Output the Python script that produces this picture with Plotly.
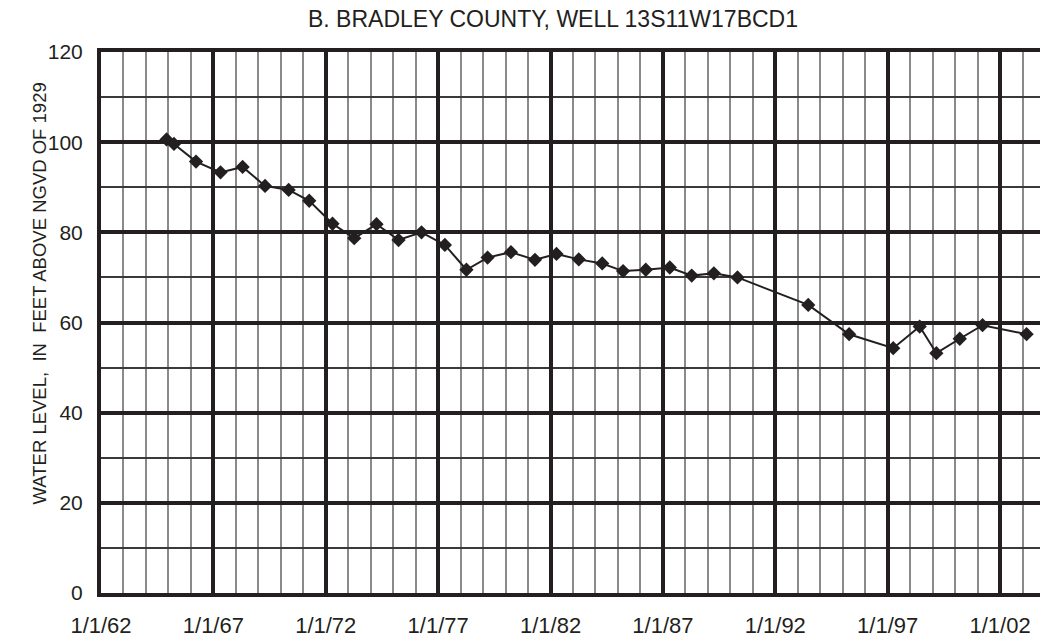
import plotly.graph_objects as go

dates = ["1964-12-01", "1965-04-01", "1966-03-25", "1967-04-27", "1968-04-20", "1969-04-20",
         "1970-05-08", "1971-04-08", "1972-04-20", "1973-04-08", "1974-04-05", "1975-03-29",
         "1976-04-05", "1977-04-20", "1978-04-05", "1979-03-15", "1980-03-29", "1981-04-23",
         "1982-04-08", "1983-04-05", "1984-04-20", "1985-03-25", "1986-03-29", "1987-04-23",
         "1988-04-13", "1989-04-08", "1990-04-27", "1993-06-20", "1995-04-15", "1997-04-01",
         "1998-06-05", "1999-03-03", "2000-03-17", "2001-03-22", "2003-03-08"]
levels = [100.6, 99.6, 95.7, 93.3, 94.5, 90.3, 89.4, 87.0, 81.9, 78.7, 81.8, 78.3,
          80.0, 77.2, 71.7, 74.4, 75.6, 73.9, 75.2, 74.0, 73.1, 71.4, 71.7, 72.2,
          70.4, 70.9, 70.0, 63.9, 57.4, 54.3, 59.1, 53.2, 56.4, 59.4, 57.4]

title_text = "B. BRADLEY COUNTY, WELL 13S11W17BCD1"
ytitle_text = "WATER LEVEL,  IN  FEET ABOVE NGVD OF 1929"

dark = "#231f20"
FONT = "Liberation Sans, Arial, sans-serif"

fig = go.Figure()
fig.add_trace(go.Scatter(
    x=dates, y=levels, mode="lines+markers",
    line=dict(color=dark, width=2),
    marker=dict(symbol="diamond", size=11, color=dark),
    showlegend=False, cliponaxis=False,
))

W, H = 1040, 639
L, R, T, B = 101, 0, 52, 46

fig.update_layout(
    width=W, height=H,
    margin=dict(l=L, r=R, t=T, b=B),
    paper_bgcolor="white", plot_bgcolor="white",
    font=dict(family=FONT, color=dark),
    annotations=[
        dict(text=title_text, xref="paper", yref="paper",
             x=(553 - L) / (W - L - R), y=(H - B - 19) / (H - T - B),
             showarrow=False, xanchor="center", yanchor="middle",
             font=dict(size=23, color=dark, family=FONT)),
        dict(text=ytitle_text, xref="paper", yref="paper",
             x=(38.5 - L) / (W - L - R), y=(H - B - 294) / (H - T - B),
             showarrow=False, xanchor="center", yanchor="middle", textangle=-90,
             font=dict(size=18.5, color=dark, family=FONT)),
    ],
)

fig.update_xaxes(
    type="date", range=["1962-01-01", "2003-10-12"],
    tick0="1962-01-01", dtick="M60", tickformat="%-m/%-d/%y",
    showgrid=True, gridcolor=dark, gridwidth=4,
    minor=dict(dtick="M12", tick0="1962-01-01", showgrid=True, gridcolor="#8a8a8a", gridwidth=1.5),
    showline=True, linecolor=dark, linewidth=4, mirror=True,
    ticks="", ticklabelstandoff=10,
    tickfont=dict(size=22, color=dark, family=FONT),
    zeroline=False,
)
fig.update_yaxes(
    range=[0, 120], dtick=20, tick0=0,
    showgrid=True, gridcolor=dark, gridwidth=4,
    minor=dict(dtick=10, showgrid=True, gridcolor="#3a3a3a", gridwidth=1.5),
    showline=True, linecolor=dark, linewidth=4,
    ticks="", ticklabelstandoff=10,
    tickfont=dict(size=21, color=dark, family=FONT),
    zeroline=False,
)

fig.write_html("out.html", config={"displayModeBar": False},
               post_script="document.body.style.margin='0';")
